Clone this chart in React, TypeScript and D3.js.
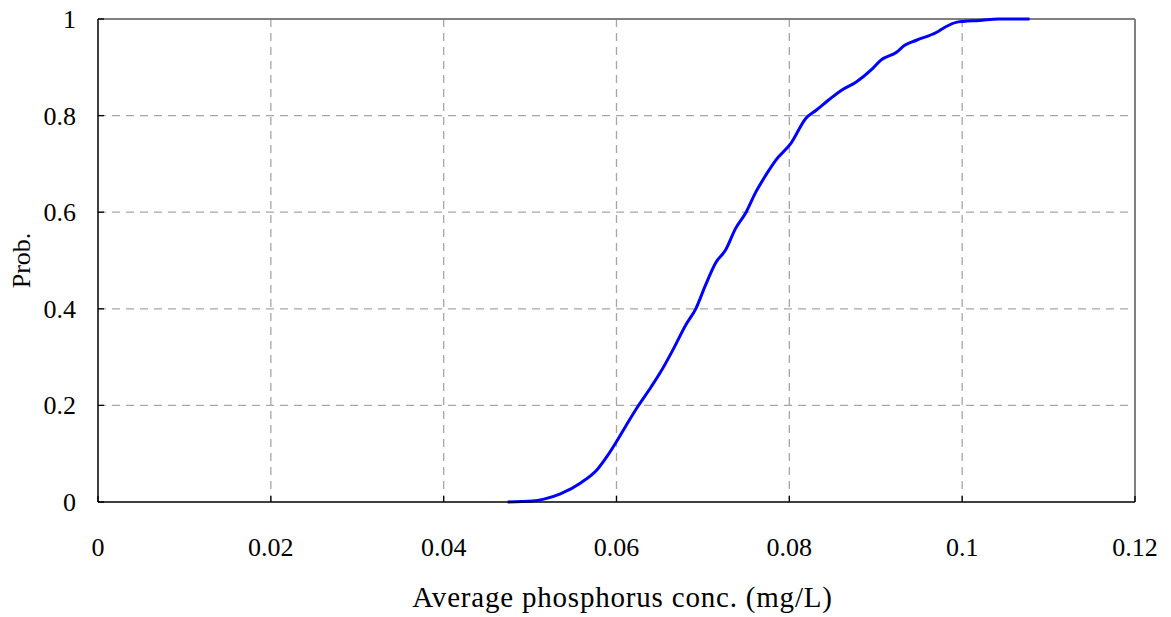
import React from "react";
import * as d3 from "d3";

const concValues = [
  0.0474, 0.0503, 0.0516, 0.0535, 0.0559, 0.0578, 0.059, 0.0601, 0.0611, 0.0623,
  0.064, 0.0651, 0.0665, 0.068, 0.0692, 0.0703, 0.0715, 0.0726, 0.0738, 0.075,
  0.0761, 0.0775, 0.0784, 0.0802, 0.0819, 0.0831, 0.0848, 0.086, 0.0877, 0.0895,
  0.0906, 0.0924, 0.0933, 0.0947, 0.097, 0.0981, 0.0993, 0.1001, 0.102,
  0.1042, 0.1078,
];
const probValues = [
  0, 0.002, 0.006, 0.017, 0.04, 0.068, 0.097, 0.128, 0.158, 0.193,
  0.238, 0.269, 0.314, 0.366, 0.401, 0.449, 0.496, 0.521, 0.567, 0.6,
  0.641, 0.683, 0.707, 0.743, 0.794, 0.811, 0.836, 0.852, 0.869, 0.895,
  0.915, 0.931, 0.945, 0.956, 0.972, 0.984, 0.993, 0.995, 0.997,
  1.0, 1.0,
];
const xTicks = [0, 0.02, 0.04, 0.06, 0.08, 0.1, 0.12];
const yTicks = [0, 0.2, 0.4, 0.6, 0.8, 1];
const xLabel = "Average phosphorus conc. (mg/L)";
const yLabel = "Prob.";

export default function App() {
  const W = 1171, H = 617;
  const left = 98, right = 1135, top = 19, bottom = 502;
  const x = d3.scaleLinear().domain([0, 0.12]).range([left, right]);
  const y = d3.scaleLinear().domain([0, 1]).range([bottom, top]);
  const pts = concValues.map((c, i) => [c, probValues[i]] as [number, number]);
  const line = d3.line<[number, number]>().x(d => x(d[0])).y(d => y(d[1])).curve(d3.curveMonotoneX);
  const font = "'Liberation Serif', 'Times New Roman', serif";
  const fmt = (v: number) => (v === 0 ? "0" : String(v));
  return (
    <svg width={W} height={H} style={{ position: "absolute", left: 0, top: 0, background: "#fff" }}>
      <rect x={0} y={0} width={W} height={H} fill="#fff" />
      {xTicks.filter(t => t > 0 && t < 0.12).map(t => (
        <line key={"gx" + t} x1={x(t)} x2={x(t)} y1={top} y2={bottom} stroke="#a6a6a6" strokeWidth={1.3} strokeDasharray="8 6" />
      ))}
      {yTicks.filter(t => t > 0 && t < 1).map(t => (
        <line key={"gy" + t} x1={left} x2={right} y1={y(t)} y2={y(t)} stroke="#a6a6a6" strokeWidth={1.3} strokeDasharray="8 6" />
      ))}
      <line x1={left} x2={right} y1={top} y2={top} stroke="#808080" strokeWidth={2} />
      <line x1={right} x2={right} y1={top} y2={bottom} stroke="#808080" strokeWidth={2} />
      <path d={line(pts) || ""} fill="none" stroke="#0000ff" strokeWidth={3} strokeLinejoin="round" />
      <line x1={left} x2={left} y1={top} y2={bottom} stroke="#000" strokeWidth={1.5} />
      <line x1={left} x2={right} y1={bottom} y2={bottom} stroke="#000" strokeWidth={1.5} />
      {xTicks.map(t => (
        <line key={"tx" + t} x1={x(t)} x2={x(t)} y1={bottom} y2={bottom - 6} stroke="#000" strokeWidth={1.3} />
      ))}
      {yTicks.map(t => (
        <line key={"ty" + t} x1={left} x2={left + 6} y1={y(t)} y2={y(t)} stroke="#000" strokeWidth={1.3} />
      ))}
      {xTicks.map(t => (
        <text key={"lx" + t} x={x(t)} y={556} textAnchor="middle" fontFamily={font} fontSize={26} fill="#000">{fmt(t)}</text>
      ))}
      {yTicks.map(t => (
        <text key={"ly" + t} x={76} y={y(t) + 9} textAnchor="end" fontFamily={font} fontSize={26} fill="#000">{fmt(t)}</text>
      ))}
      <text x={622.5} y={607} textAnchor="middle" fontFamily={font} fontSize={29} letterSpacing={0.8} fill="#000">{xLabel}</text>
      <text transform={`translate(30, ${(top + bottom) / 2}) rotate(-90)`} textAnchor="middle" fontFamily={font} fontSize={26} fill="#000">{yLabel}</text>
    </svg>
  );
}
